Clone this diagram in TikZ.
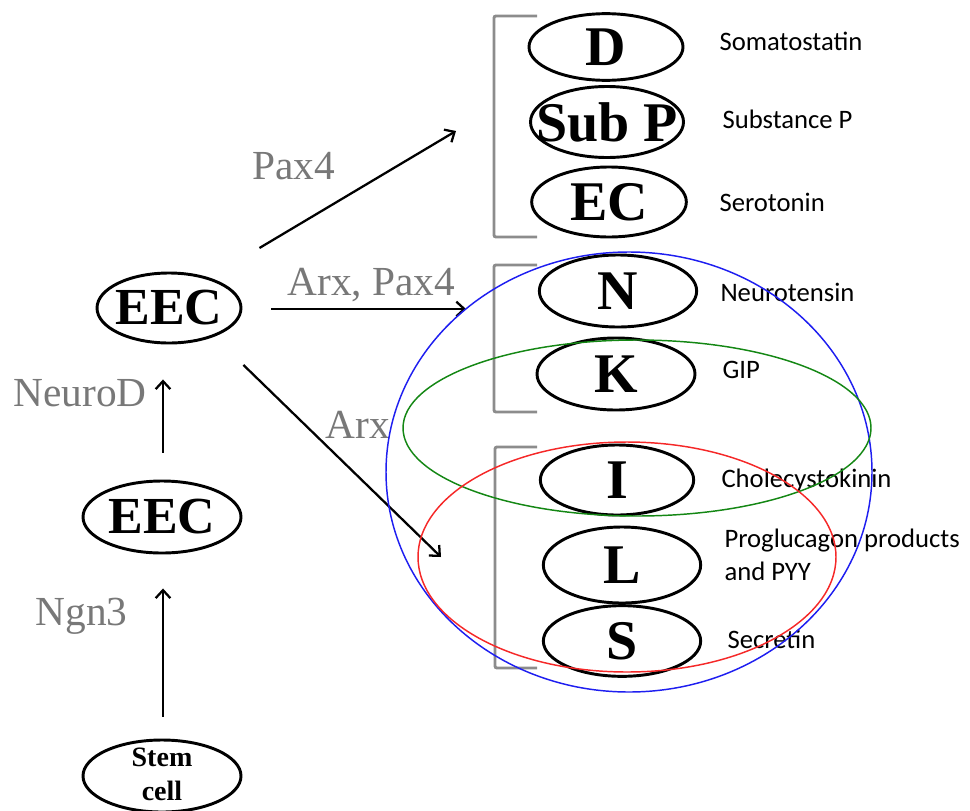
\documentclass[tikz,border=0pt]{standalone}
\usepackage{fontspec}
\setmainfont{Liberation Serif}
\newfontfamily\hormfont{Carlito}
\usetikzlibrary{shapes.geometric,arrows.meta,calc}

\definecolor{factorgray}{RGB}{120,120,120}
\definecolor{bracketgray}{RGB}{140,140,140}
\definecolor{setblue}{RGB}{30,30,240}
\definecolor{setgreen}{RGB}{20,135,20}
\definecolor{setred}{RGB}{245,40,40}

\tikzset{every picture/.style={line width=0.75pt}}
\tikzset{
  cell/.style={draw, ellipse, line width=2.2pt, inner sep=0pt},
  cellname/.style={font=\fontsize{42}{44}\selectfont\bfseries},
  eecname/.style={font=\fontsize{39}{42}\selectfont\bfseries},
  factor/.style={anchor=base west, inner sep=0pt, text=factorgray, font=\fontsize{31}{34}\selectfont},
  hormone/.style={anchor=base west, inner sep=0pt, font=\hormfont\fontsize{20}{24.75}\selectfont, align=left},
  arr/.style={-{Straight Barb[length=6pt,width=11pt]}, line width=1.7pt},
  bracket/.style={draw=bracketgray, line width=2.2pt, rounded corners=1.5pt},
}

\begin{document}
\begin{tikzpicture}[x=0.75pt,y=0.75pt,yscale=-1,xscale=1]
    \useasboundingbox (0,0) rectangle (970,810);

    %Shape: Ellipse -- lineage on the left
    \node [cell, minimum width=118.5pt, minimum height=54pt,
      label={[font=\fontsize{21}{25.5}\selectfont\bfseries, align=center, yshift=1.5pt]center:Stem\\cell}] (stem) at (162,776) {};
    \node [cell, minimum width=118.5pt, minimum height=54pt, label={[eecname]center:EEC}] (eecA) at (162,517) {};
    \node [cell, minimum width=108pt, minimum height=52.5pt, label={[eecname]center:EEC}] (eecB) at (169,308) {};

    %Shape: Ellipse -- cell types
    \node [cell, minimum width=115.5pt, minimum height=50pt, label={[cellname]center:D}] (D) at (606,47) {};
    \node [cell, minimum width=114.75pt, minimum height=53.25pt, label={[cellname]center:Sub P}] (subP) at (607,122) {};
    \node [cell, minimum width=116pt, minimum height=52.5pt, label={[cellname]center:EC}] (EC) at (609,202) {};
    \node [cell, minimum width=118pt, minimum height=54pt, label={[cellname]center:N}] (N) at (618,291) {};
    \node [cell, minimum width=118.5pt, minimum height=54pt, label={[cellname]center:K}] (K) at (616,374) {};
    \node [cell, minimum width=115pt, minimum height=52.5pt, label={[cellname]center:I}] (I) at (617,480) {};
    \node [cell, minimum width=118pt, minimum height=57pt, label={[cellname]center:L}] (L) at (622,565) {};
    \node [cell, minimum width=118pt, minimum height=53pt, label={[cellname]center:S}] (S) at (622,641) {};

    %Straight Lines -- brackets
    \draw [bracket] (537,16) -- (494,16) -- (494,237) -- (537,237);
    \draw [bracket] (537,265) -- (494,265) -- (494,412) -- (537,412);
    \draw [bracket] (537,447) -- (495,447) -- (495,668) -- (537,668);

    %Straight Lines -- arrows
    \coordinate (toPax) at (456,131);
    \coordinate (toArxPax) at (466,309);
    \coordinate (toArx) at (441,557);
    \draw [arr] ($(stem.north)+(1,-22)$) -- ($(eecA.south)+(1,34)$);
    \draw [arr] ($(eecA.north)+(1,-27)$) -- ($(eecB.south)+(-6,35)$);
    \draw [arr] ($(eecB.east)+(17,-60)$) -- (toPax);
    \draw [arr] ($(eecB.east)+(29,1)$) -- (toArxPax);
    \draw [arr] ($(eecB.east)+(1,57)$) -- (toArx);

    % Text Node
    \node [factor] (ngn3) at (35,625) {Ngn3};
    % Text Node
    \node [factor] (neuroD) at (13,406) {NeuroD};
    % Text Node
    \node [factor] (pax4) at (252,179) {Pax4};
    % Text Node
    \node [factor] (arxPax4) at (287,295) {Arx, Pax4};
    % Text Node
    \node [factor] (arx) at (325,438) {Arx};

    % Text Node
    \node [hormone] (som) at (719,50) {Somatostatin};
    % Text Node
    \node [hormone] (subst) at (722,128) {Substance P};
    % Text Node
    \node [hormone] (sero) at (719,211) {Serotonin};
    % Text Node
    \node [hormone] (neurot) at (720,301) {Neurotensin};
    % Text Node
    \node [hormone] (gip) at (722,378) {GIP};
    % Text Node
    \node [hormone] (cck) at (721,487) {Cholecystokinin};
    % Text Node
    \node [hormone] (progluc) at (724,580) {Proglucagon products\\and PYY};
    % Text Node
    \node [hormone] (secr) at (727,648) {Secretin};

    %Shape: Ellipse -- overlapping groups
    \draw [setblue, line width=1.1pt] (629,472) ellipse [x radius=243, y radius=220];
    \draw [setgreen, line width=1.1pt] (637,428) ellipse [x radius=234, y radius=88];
    \draw [setred, line width=1.1pt] (627,557) ellipse [x radius=209, y radius=115];
\end{tikzpicture}
\end{document}
